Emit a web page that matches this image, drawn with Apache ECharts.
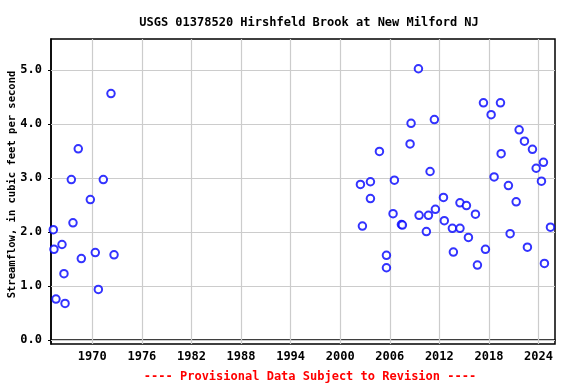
<!DOCTYPE html>
<html><head><meta charset="utf-8">
<script src="https://cdn.jsdelivr.net/npm/echarts@6/dist/echarts.min.js"></script>
<style>html,body{margin:0;padding:0;background:#fff}#c{width:576px;height:384px}</style>
</head><body><div id="c"></div>
<script>
var years = [1965.28,1965.36,1965.6,1966.33,1966.57,1966.7,1967.46,1967.66,1968.3,1968.67,1969.76,1970.36,1970.73,1971.33,1972.26,1972.63,
2002.45,2002.69,2003.66,2003.66,2004.75,2005.6,2005.6,2006.4,2006.56,2007.41,2007.53,2008.46,2008.58,2009.47,2009.55,2010.43,2010.68,2010.88,2011.4,2011.52,2012.5,2012.6,2013.58,2013.7,2014.5,2014.5,2015.28,2015.52,2016.37,2016.61,2017.34,2017.58,2018.27,2018.63,2019.4,2019.48,2020.36,2020.57,2021.3,2021.66,2022.3,2022.66,2023.27,2023.72,2024.36,2024.6,2024.72,2025.45];
var flows = [2.045,1.68,0.76,1.77,1.23,0.68,2.97,2.17,3.54,1.51,2.60,1.62,0.94,2.97,4.56,1.58,
2.88,2.11,2.93,2.62,3.49,1.57,1.34,2.34,2.96,2.14,2.13,3.63,4.01,5.02,2.31,2.01,2.31,3.12,4.08,2.42,2.64,2.21,2.07,1.63,2.54,2.07,2.49,1.90,2.33,1.39,4.39,1.68,4.17,3.02,4.39,3.45,2.86,1.97,2.56,3.89,3.68,1.72,3.53,3.18,2.94,3.29,1.42,2.09];
var xTicks = [1970,1976,1982,1988,1994,2000,2006,2012,2018,2024];
var yTicks = [0,1,2,3,4,5];
var titleText = 'USGS 01378520 Hirshfeld Brook at New Milford NJ';
var footText = '---- Provisional Data Subject to Revision ----';
var yName = 'Streamflow, in cubic feet per second';

var pts = years.map(function(y,i){return [y, flows[i]];});
var font = "'DejaVu Sans Mono', 'Liberation Mono', monospace";
var chart = echarts.init(document.getElementById('c'), null, {renderer:'canvas'});
chart.setOption({
  animation:false,
  title:[
    {text:titleText, left:304, top:12, textAlign:'center', textStyle:{fontFamily:font, fontSize:12, fontWeight:'bold', color:'#000'}},
    {text:footText, left:305, top:366, textAlign:'center', textStyle:{fontFamily:font, fontSize:12, fontWeight:'bold', color:'#ff0000'}}
  ],
  grid:{left:51, right:21, top:39, bottom:40, containLabel:false, outerBoundsMode:'none', show:true, borderColor:'#000', borderWidth:1.5, backgroundColor:'transparent'},
  xAxis:{type:'value', min:1965, max:2026,
    axisLine:{show:true, lineStyle:{color:'#000', width:1.5}},
    axisTick:{show:true, customValues:xTicks, length:3, inside:false, lineStyle:{color:'#000'}},
    axisLabel:{customValues:xTicks, formatter:function(v){return String(v);}, fontFamily:font, fontSize:12, fontWeight:'bold', color:'#000', margin:7},
    splitLine:{show:false}
  },
  yAxis:{type:'value', min:-0.07, max:5.57,
    name:yName, nameLocation:'middle', nameGap:33, nameRotate:90, nameMoveOverlap:false,
    nameTextStyle:{fontFamily:font, fontSize:10.5, fontWeight:'bold', color:'#000', padding:[0,0,0,14]},
    axisLine:{show:true, lineStyle:{color:'#000', width:1.5}},
    axisTick:{show:true, customValues:yTicks, length:3, lineStyle:{color:'#000'}},
    axisLabel:{customValues:yTicks, formatter:function(v){return v.toFixed(1);}, fontFamily:font, fontSize:12, fontWeight:'bold', color:'#000', margin:9},
    splitLine:{show:false}
  },
  series:[
    {type:'scatter', data:pts, symbol:'emptyCircle', symbolSize:7.5,
     itemStyle:{color:'#0000ff', borderColor:'#0000ff', borderWidth:1.5}, z:5,
     markLine:{silent:true, symbol:'none', label:{show:false}, lineStyle:{color:'#cccccc', type:'solid', width:1.2}, animation:false,
       data: xTicks.map(function(t){return {xAxis:t};}).concat(yTicks.map(function(t){return {yAxis:t};}))}
    }
  ]
});
</script></body></html>
